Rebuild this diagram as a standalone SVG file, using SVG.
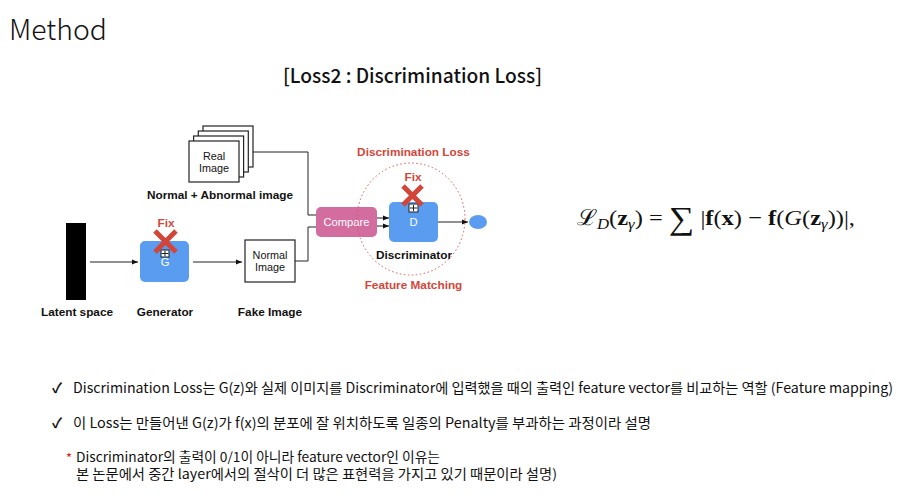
<svg xmlns="http://www.w3.org/2000/svg" width="920" height="496" viewBox="0 0 920 496">
  <style>
    .lbl { font-family: "Liberation Sans", Arial, sans-serif; font-weight: bold; font-size: 11.8px; fill: #111; text-anchor: middle; }
    .red { fill: #d2463a; }
    .box { fill: #ffffff; stroke: #222; stroke-width: 1.2; }
    .inner { font-family: "Liberation Sans", Arial, sans-serif; font-size: 10.8px; fill: #111; text-anchor: middle; }
    .wtxt { font-family: "Liberation Sans", Arial, sans-serif; font-size: 11.2px; fill: #ffffff; text-anchor: middle; }
    .blue { fill: #5a9cf0; }
    .wire { fill: none; stroke: #222; stroke-width: 1; }
    .cross { stroke: #d2463a; stroke-width: 5; stroke-linecap: butt; }
    .plus { fill: #ffffff; stroke: #222; stroke-width: 1; }
    .body { font-family: "Noto Sans CJK KR", "Noto Sans", sans-serif; font-size: 14px; fill: #111; }
    .b { font-weight: bold; }
    .i { font-style: italic; }
  </style>
  <defs>
    <marker id="arr" viewBox="0 0 10 10" refX="10" refY="5" markerWidth="6" markerHeight="6" orient="auto">
      <path d="M0,1 L10,5 L0,9 z" fill="#111"/>
    </marker>
  </defs>
  <rect width="920" height="496" fill="#ffffff"/>

  <!-- headings -->
  <text x="9" y="40" font-family="Noto Sans CJK KR, Noto Sans, sans-serif" font-size="28" font-weight="300" fill="#111" textLength="98" lengthAdjust="spacingAndGlyphs">Method</text>
  <text x="283" y="83" font-family="Noto Sans CJK KR, Noto Sans, sans-serif" font-size="19.5" font-weight="500" fill="#111" textLength="259" lengthAdjust="spacingAndGlyphs">[Loss2 : Discrimination Loss]</text>

  <!-- connectors -->
  <g id="connectors">
    <line class="wire" x1="90" y1="262" x2="138" y2="262" marker-end="url(#arr)"/>
    <line class="wire" x1="193" y1="262" x2="242" y2="262" marker-end="url(#arr)"/>
    <polyline class="wire" points="295,261 308,261 308,227 317,227"/>
    <polyline class="wire" points="253,152 308,152 308,215 317,215"/>
    <line class="wire" x1="377" y1="218" x2="389" y2="218" marker-end="url(#arr)"/>
    <line class="wire" x1="377" y1="226" x2="389" y2="226" marker-end="url(#arr)"/>
    <line class="wire" x1="438" y1="222" x2="468" y2="222" marker-end="url(#arr)"/>
  </g>

  <!-- latent space -->
  <g id="latent">
    <rect x="66" y="223" width="20" height="77" fill="#000"/>
    <text class="lbl" x="77" y="316">Latent space</text>
  </g>

  <!-- generator -->
  <g id="generator">
    <rect class="blue" x="140" y="241" width="49" height="41" rx="5"/>
    <rect class="plus" x="161" y="250" width="8" height="7"/>
    <path d="M165,250.5 V256.5 M161.5,253.5 H168.5" stroke="#222" stroke-width="1"/>
    <text class="wtxt" x="165" y="266">G</text>
    <text class="lbl red" x="166" y="227">Fix</text>
    <path class="cross" d="M155,231 L176,252 M176,231 L155,252"/>
    <text class="lbl" x="165" y="316">Generator</text>
  </g>

  <!-- fake image -->
  <g id="fake-image">
    <rect class="box" x="245" y="240" width="50" height="42"/>
    <text class="inner" x="270" y="259">Normal</text>
    <text class="inner" x="270" y="271">Image</text>
    <text class="lbl" x="270" y="316">Fake Image</text>
  </g>

  <!-- real image stack -->
  <g id="real-image">
    <rect class="box" x="203" y="126" width="50" height="41"/>
    <rect class="box" x="198.3" y="131" width="50" height="41"/>
    <rect class="box" x="193.6" y="136" width="50" height="41"/>
    <rect class="box" x="189" y="141" width="50" height="41"/>
    <text class="inner" x="214" y="160">Real</text>
    <text class="inner" x="214" y="172">Image</text>
    <text class="lbl" x="220" y="199">Normal + Abnormal image</text>
  </g>

  <!-- compare -->
  <g id="compare">
    <rect x="316" y="207" width="61" height="30" rx="5" fill="#d36c9f"/>
    <text class="wtxt" x="346.5" y="226">Compare</text>
  </g>

  <!-- discriminator -->
  <g id="discriminator">
    <ellipse cx="411" cy="219" rx="54" ry="56" fill="none" stroke="#d9554a" stroke-width="1" stroke-dasharray="1.5 2.5"/>
    <text class="lbl red" x="413.5" y="156">Discrimination Loss</text>
    <rect class="blue" x="389" y="202" width="49" height="40" rx="5"/>
    <rect class="plus" x="409" y="204" width="9" height="8"/>
    <path d="M413.5,205 V211 M410,208 H417" stroke="#222" stroke-width="1"/>
    <text class="wtxt" x="413.5" y="226">D</text>
    <text class="lbl red" x="413" y="181">Fix</text>
    <path class="cross" d="M403,186 L422,205 M422,186 L403,205"/>
    <text class="lbl" x="414" y="259">Discriminator</text>
    <text class="lbl red" x="413.5" y="289">Feature Matching</text>
  </g>

  <!-- output -->
  <g id="output">
    <ellipse cx="478" cy="222" rx="9" ry="7" class="blue"/>
  </g>

  <!-- loss formula -->
  <text x="577" y="225" font-family="Liberation Serif, DejaVu Serif, serif" font-size="22" fill="#111" textLength="278" lengthAdjust="spacingAndGlyphs">ℒ<tspan font-size="15" dy="4" class="i">D</tspan><tspan dy="-4">(</tspan><tspan class="b">z</tspan><tspan font-size="15" dy="4" class="i">γ</tspan><tspan dy="-4">) = </tspan><tspan font-size="32" dy="4">∑</tspan><tspan dy="-4"> |</tspan><tspan class="b">f</tspan>(<tspan class="b">x</tspan>) − <tspan class="b">f</tspan>(<tspan class="i">G</tspan>(<tspan class="b">z</tspan><tspan font-size="15" dy="4" class="i">γ</tspan><tspan dy="-4">))|,</tspan></text>

  <!-- notes -->
  <g id="notes">
    <text class="body" x="52" y="393" font-weight="bold">✓</text>
    <text class="body" x="73" y="393" textLength="820" lengthAdjust="spacingAndGlyphs">Discrimination Loss는 G(z)와 실제 이미지를 Discriminator에 입력했을 때의 출력인 feature vector를 비교하는 역할 (Feature mapping)</text>
    <text class="body" x="52" y="428" font-weight="bold">✓</text>
    <text class="body" x="73" y="428" textLength="578" lengthAdjust="spacingAndGlyphs">이 Loss는 만들어낸 G(z)가 f(x)의 분포에 잘 위치하도록 일종의 Penalty를 부과하는 과정이라 설명</text>
    <text class="body" x="66" y="463" style="fill:#e0201a;font-size:13px">*</text>
    <text class="body" x="76" y="461.5" style="font-size:13.2px" textLength="364" lengthAdjust="spacingAndGlyphs">Discriminator의 출력이 0/1이 아니라 feature vector인 이유는</text>
    <text class="body" x="76" y="479" style="font-size:13.2px" textLength="481" lengthAdjust="spacingAndGlyphs">본 논문에서 중간 layer에서의 절삭이 더 많은 표현력을 가지고 있기 때문이라 설명)</text>
  </g>
</svg>
